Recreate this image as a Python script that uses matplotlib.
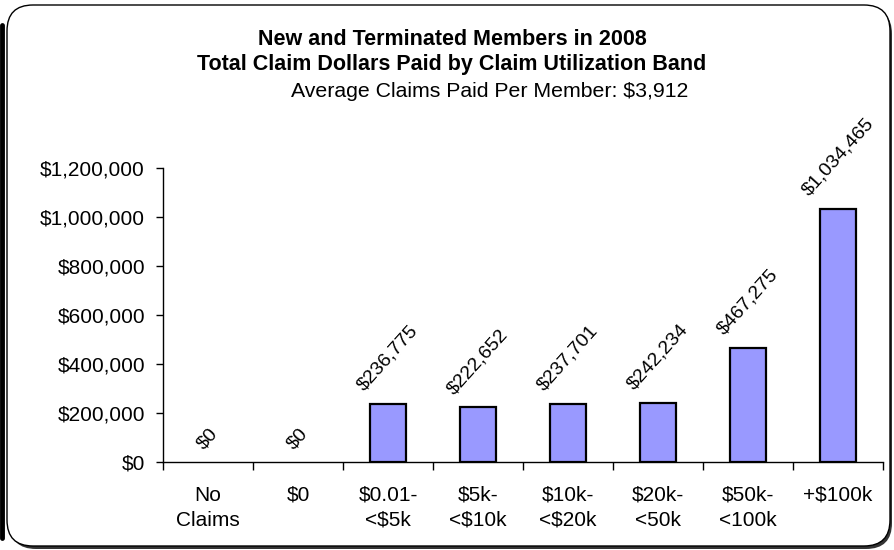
import matplotlib
matplotlib.use("Agg")
import matplotlib.pyplot as plt
from matplotlib.patches import FancyBboxPatch
from matplotlib.ticker import FuncFormatter, FixedLocator
import numpy as np

plt.rcParams['font.family'] = ['Liberation Sans', 'DejaVu Sans']

bands = ['No\nClaims', '$0', '$0.01-\n<$5k', '$5k-\n<$10k', '$10k-\n<$20k',
         '$20k-\n<50k', '$50k-\n<100k', '+$100k']
paid = [0, 0, 236775, 222652, 237701, 242234, 467275, 1034465]

W, H = 894, 550
fig = plt.figure(figsize=(W / 100, H / 100), dpi=100)

# background layer in pixel units for the rounded frame
bg = fig.add_axes([0, 0, 1, 1])
bg.set_xlim(0, W)
bg.set_ylim(H, 0)
bg.axis('off')
bg.add_patch(FancyBboxPatch((10, 8), 882, 541, boxstyle="round,pad=0,rounding_size=26",
                            facecolor='#333333', edgecolor='none'))
bg.add_patch(FancyBboxPatch((7, 5), 883, 541, boxstyle="round,pad=0,rounding_size=26",
                            facecolor='white', edgecolor='black', linewidth=1.0))
bg.plot([1.5, 1.5], [25, 538], color='black', linewidth=3.5, solid_capstyle='round')

ax = fig.add_axes([163 / W, 88 / H, 720 / W, 294 / H])
ax.set_facecolor('none')

x = np.arange(len(bands))
ax.bar(x, paid, width=0.41, color='#9999FF', edgecolor='black',
       linewidth=[1.6 if v > 0 else 0 for v in paid])

for xi, v in zip(x, paid):
    ax.annotate(f'${v:,.0f}', (xi, v), xytext=(0, 7), textcoords='offset points',
                rotation=48, ha='center', va='bottom', fontsize=14)

ax.set_xlim(-0.5, len(bands) - 0.5)
ax.set_ylim(0, 1200000)
ax.set_yticks(np.arange(0, 1200001, 200000))
ax.yaxis.set_major_formatter(FuncFormatter(lambda v, p: f'${v:,.0f}'))

ax.set_xticks(x)
ax.set_xticklabels(bands, linespacing=1.4)
ax.xaxis.set_minor_locator(FixedLocator(np.arange(-0.5, len(bands), 1.0)))
ax.tick_params(axis='x', which='major', length=0, pad=17, labelsize=15)
ax.tick_params(axis='x', which='minor', length=6, direction='out', width=1)
ax.tick_params(axis='y', length=5, direction='out', width=1, labelsize=15, pad=8)

for s in ['top', 'right']:
    ax.spines[s].set_visible(False)
ax.spines['left'].set_linewidth(1)
ax.spines['bottom'].set_linewidth(1)

fig.text(452 / W, 1 - 52 / H,
         'New and Terminated Members in 2008\nTotal Claim Dollars Paid by Claim Utilization Band',
         ha='center', va='center', fontsize=15.5, fontweight='bold', linespacing=1.25)
fig.text(490 / W, 1 - 91 / H, 'Average Claims Paid Per Member: $3,912',
         ha='center', va='center', fontsize=15.3)

fig.savefig('out.png', dpi=100)
